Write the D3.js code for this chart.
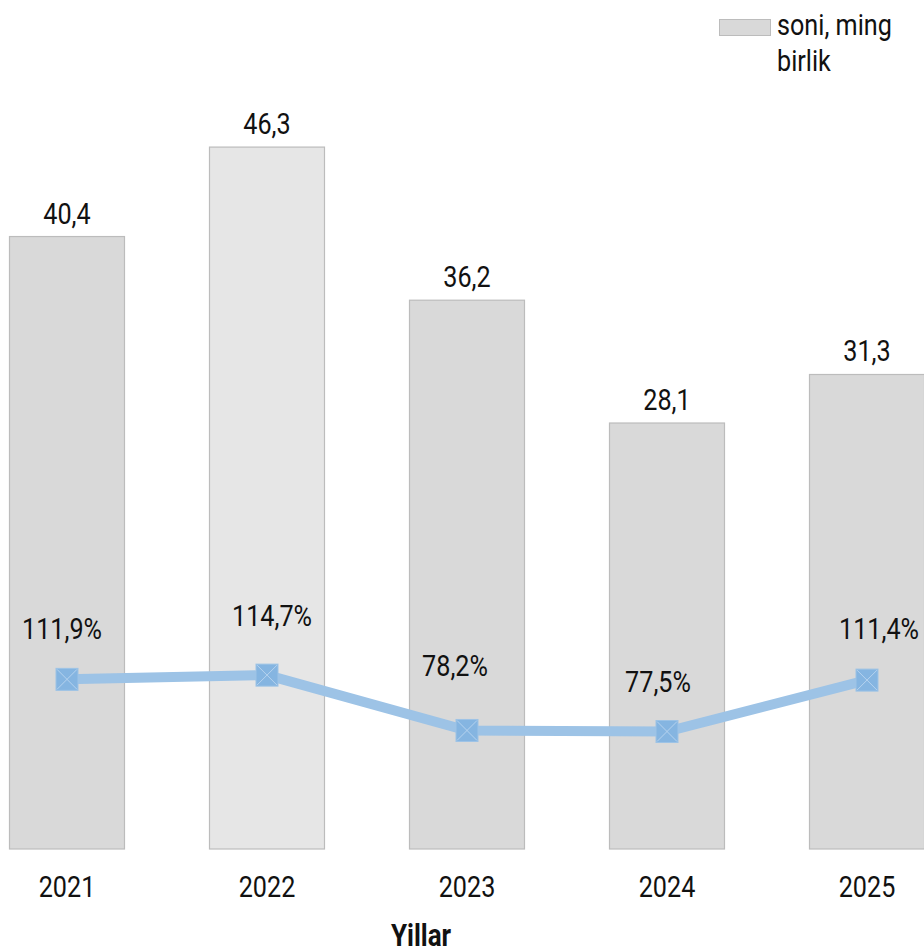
<!DOCTYPE html>
<html>
<head>
<meta charset="utf-8">
<script src="https://cdn.jsdelivr.net/npm/d3@7"></script>
<style>
  body { margin: 0; background: #fff; }
  svg { font-family: Roboto, "Noto Sans", sans-serif; }
</style>
</head>
<body>
<svg id="chart"></svg>
<script>
// chart data
const years = ["2021", "2022", "2023", "2024", "2025"];
const counts = [40.4, 46.3, 36.2, 28.1, 31.3];
const growth = [111.9, 114.7, 78.2, 77.5, 111.4];
const countLabels = ["40,4", "46,3", "36,2", "28,1", "31,3"];
const growthLabels = ["111,9%", "114,7%", "78,2%", "77,5%", "111,4%"];
const legendLines = ["soni, ming", "birlik"];
const axisTitle = "Yillar";

// small nudges for the percent labels (layout only, as placed in the original)
const growthLabelDx = [-5, 5, -12, -9, 12];
const growthLabelDy = [-40, -49, -54, -40, -41];

const size = { width: 924, height: 948 };
const plot = { left: -33, right: 967, top: 91, bottom: 849 };
const fontSize = 30;
const squeeze = 0.84; // text looks condensed in the original

const svg = d3.select("#chart")
  .attr("width", size.width)
  .attr("height", size.height);

const xScale = d3.scaleBand()
  .domain(years)
  .range([plot.left, plot.right])
  .paddingInner(0.425)
  .paddingOuter(0.2125);

const yScale = d3.scaleLinear().domain([0, 50]).range([plot.bottom, plot.top]);
const y2Scale = d3.scaleLinear().domain([0, 500]).range([plot.bottom, plot.top]);

const cx = (i) => xScale(years[i]) + xScale.bandwidth() / 2;

// condensed text helper
const addText = (sel, x, y, txt, anchor) => {
  return sel.append("text")
    .attr("transform", "translate(" + x + "," + y + ") scale(" + squeeze + ",1)")
    .attr("text-anchor", anchor || "middle")
    .attr("font-size", fontSize)
    .attr("fill", "#111")
    .text(txt);
};

// bars
svg.append("g")
  .selectAll("rect")
  .data(counts)
  .enter()
  .append("rect")
  .attr("x", (d, i) => xScale(years[i]))
  .attr("y", (d) => yScale(d))
  .attr("width", xScale.bandwidth())
  .attr("height", (d) => yScale(0) - yScale(d))
  .attr("fill", (d, i) => (i === 1 ? "#e6e6e6" : "#d9d9d9"))
  .attr("stroke", "#bcbcbc")
  .attr("stroke-width", 1.2);

// bar value labels
const barLabels = svg.append("g");
counts.forEach((d, i) => {
  addText(barLabels, cx(i), yScale(d) - 13, countLabels[i]);
});

// growth line
const line = d3.line()
  .x((d, i) => cx(i))
  .y((d) => y2Scale(d));

svg.append("path")
  .datum(growth)
  .attr("d", line)
  .attr("fill", "none")
  .attr("stroke", "#9dc3e6")
  .attr("stroke-width", 10);

// markers: square with an X
const markers = svg.append("g")
  .selectAll("g")
  .data(growth)
  .enter()
  .append("g")
  .attr("transform", (d, i) => "translate(" + cx(i) + "," + y2Scale(d) + ")");

markers.append("rect")
  .attr("x", -11)
  .attr("y", -11)
  .attr("width", 22)
  .attr("height", 22)
  .attr("fill", "#85b5e1")
  .attr("stroke", "#9dc3e6")
  .attr("stroke-width", 1);

markers.append("path")
  .attr("d", "M-10,-10L10,10M10,-10L-10,10")
  .attr("stroke", "#b6d3ef")
  .attr("stroke-width", 1);

// growth labels
const pctLabels = svg.append("g");
growth.forEach((d, i) => {
  addText(pctLabels, cx(i) + growthLabelDx[i], y2Scale(d) + growthLabelDy[i], growthLabels[i]);
});

// x axis labels
const xAxis = d3.axisBottom(xScale).tickSize(0).tickPadding(27);
const xg = svg.append("g")
  .attr("transform", "translate(0," + plot.bottom + ")")
  .call(xAxis);
xg.select(".domain").remove();
xg.selectAll("text")
  .attr("font-size", fontSize)
  .attr("font-family", "Roboto, sans-serif")
  .attr("fill", "#111")
  .attr("transform", "scale(" + squeeze + ",1)");

// axis title
addText(svg, 421, 946, axisTitle)
  .attr("font-weight", "bold")
  .attr("font-size", 31);

// legend
const legend = svg.append("g").attr("transform", "translate(719,19)");
legend.append("rect")
  .attr("x", 0.5)
  .attr("y", 0.5)
  .attr("width", 51)
  .attr("height", 16)
  .attr("fill", "#d9d9d9")
  .attr("stroke", "#bcbcbc");
legendLines.forEach((d, i) => {
  addText(legend, 58, 16 + i * 36, d, "start");
});
</script>
</body>
</html>
